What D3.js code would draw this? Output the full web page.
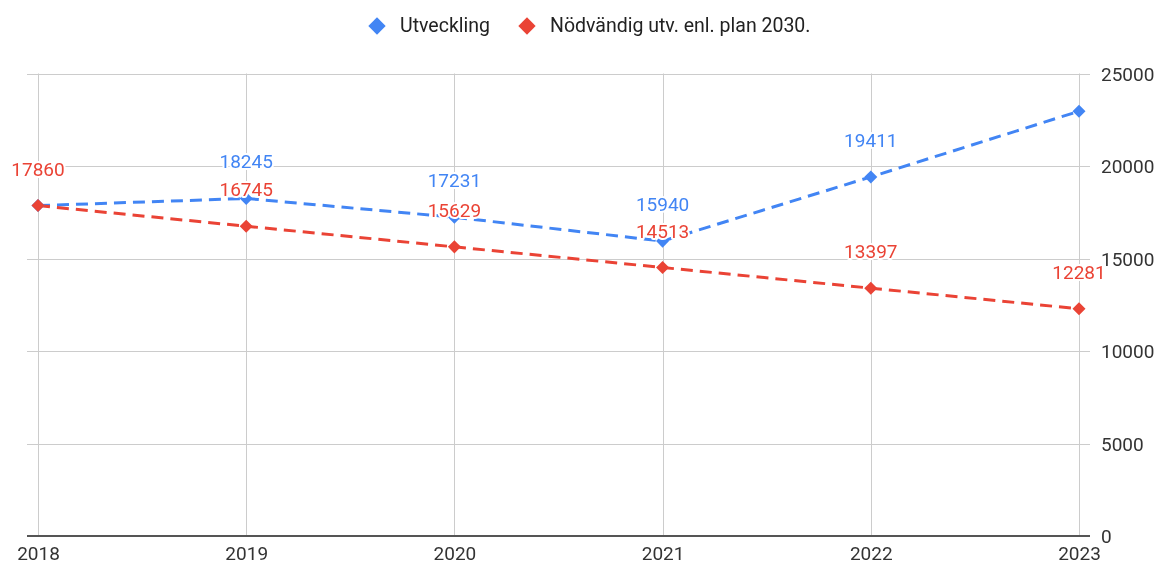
<!DOCTYPE html>
<html>
    <head>
        <meta charset="utf-8">
        <title>Utveckling</title>
        <style>
            html, body {margin: 0px;padding: 0px;overflow: hidden;background: #ffffff;font-family: Roboto, Arial, sans-serif;}
            #chart {position: fixed;}
        </style>
    </head>
    <body>
        <div id="chart"></div>
        <script src="https://cdn.jsdelivr.net/npm/d3@7"></script>
        <script type="text/javascript">
        // Chart data
        var years = ["2018", "2019", "2020", "2021", "2022", "2023"];
        var utveckling = [17860, 18245, 17231, 15940, 19411, 22960];
        var plan = [17860, 16745, 15629, 14513, 13397, 12281];
        var yTicks = [0, 5000, 10000, 15000, 20000, 25000];
        // labels that the original chart leaves out
        var hiddenUtvLabels = ["2018", "2023"];

        var seriesNames = ["Utveckling", "Nödvändig utv. enl. plan 2030."];
        var colors = ["#4285f4", "#ea4335"];

        var width = 1159, height = 565;

        var svg = d3.select("#chart").append("svg")
            .attr("width", width)
            .attr("height", height);

        var x = d3.scalePoint()
            .domain(years)
            .range([38, 1079]);

        var y = d3.scaleLinear()
            .domain([0, 25000])
            .range([536, 73.5]);

        var series = [
            {name: seriesNames[0], color: colors[0], values: utveckling, hidden: hiddenUtvLabels},
            {name: seriesNames[1], color: colors[1], values: plan, hidden: []}
        ];

        // horizontal gridlines
        svg.append("g")
            .selectAll("line")
            .data(yTicks.filter(function(d) { return d > 0; }))
          .enter().append("line")
            .attr("x1", 27)
            .attr("x2", 1090)
            .attr("y1", function(d) { return Math.round(y(d)) + 0.5; })
            .attr("y2", function(d) { return Math.round(y(d)) + 0.5; })
            .style("stroke", "#cccccc")
            .style("stroke-width", 1);

        // vertical gridlines
        svg.append("g")
            .selectAll("line")
            .data(years)
          .enter().append("line")
            .attr("x1", function(d) { return Math.round(x(d)) + 0.5; })
            .attr("x2", function(d) { return Math.round(x(d)) + 0.5; })
            .attr("y1", y(25000))
            .attr("y2", y(0))
            .style("stroke", "#cccccc")
            .style("stroke-width", 1);

        // baseline
        svg.append("line")
            .attr("x1", 27)
            .attr("x2", 1090)
            .attr("y1", y(0))
            .attr("y2", y(0))
            .style("stroke", "#555555")
            .style("stroke-width", 2);

        // right y axis
        var yAxis = d3.axisRight(y)
            .tickValues(yTicks)
            .tickSize(0)
            .tickPadding(0)
            .tickFormat(d3.format("d"));

        var ya = svg.append("g")
            .attr("transform", "translate(1101,0)")
            .call(yAxis);
        ya.select(".domain").remove();
        ya.selectAll("text")
            .attr("dy", "0.36em")
            .style("font-family", "Roboto")
            .style("font-size", "19px")
            .style("fill", "#333333");

        // x axis
        var xAxis = d3.axisBottom(x)
            .tickSize(0)
            .tickPadding(0);

        var xa = svg.append("g")
            .attr("transform", "translate(0,560)")
            .call(xAxis);
        xa.select(".domain").remove();
        xa.selectAll("text")
            .attr("y", 0)
            .attr("dy", 0)
            .style("font-family", "Roboto")
            .style("font-size", "19px")
            .style("fill", "#333333");

        // lines
        var line = d3.line()
            .x(function(d, i) { return x(years[i]); })
            .y(function(d) { return y(d); });

        svg.append("g")
            .selectAll("path")
            .data(series)
          .enter().append("path")
            .attr("d", function(s) { return line(s.values); })
            .style("fill", "none")
            .style("stroke", function(s) { return s.color; })
            .style("stroke-width", 3)
            .style("stroke-dasharray", "12,7");

        // markers
        var diamond = d3.symbol().type(d3.symbolSquare).size(85);

        series.forEach(function(s) {
            svg.append("g")
                .selectAll("path")
                .data(s.values)
              .enter().append("path")
                .attr("d", diamond)
                .attr("transform", function(d, i) { return "translate(" + x(years[i]) + "," + y(d) + ") rotate(45)"; })
                .style("fill", s.color);
        });

        // data labels with white halo
        series.forEach(function(s) {
            var labels = s.values.map(function(v, i) { return {year: years[i], value: v}; })
                .filter(function(d) { return s.hidden.indexOf(d.year) < 0; });

            svg.append("g")
                .selectAll("text")
                .data(labels)
              .enter().append("text")
                .attr("x", function(d) { return x(d.year); })
                .attr("y", function(d) { return y(d.value) - 30; })
                .attr("text-anchor", "middle")
                .style("font-family", "Roboto")
                .style("font-size", "19px")
                .style("fill", s.color)
                .style("stroke", "#ffffff")
                .style("stroke-width", 4)
                .style("stroke-linejoin", "round")
                .style("paint-order", "stroke")
                .text(function(d) { return d.value; });
        });

        // legend
        var legend = svg.append("g")
            .attr("transform", "translate(368,0)");

        var lx = 0;
        series.forEach(function(s) {
            var item = legend.append("g")
                .attr("transform", "translate(" + lx + ",0)");
            item.append("path")
                .attr("d", d3.symbol().type(d3.symbolSquare).size(150))
                .attr("transform", "translate(9,26) rotate(45)")
                .style("fill", s.color);
            var t = item.append("text")
                .attr("x", 32)
                .attr("y", 32)
                .style("font-family", "Roboto")
                .style("font-size", "19.5px")
                .style("fill", "#222222")
                .text(s.name);
            lx += 32 + t.node().getComputedTextLength() + 28;
        });
        </script>
    </body>
</html>
